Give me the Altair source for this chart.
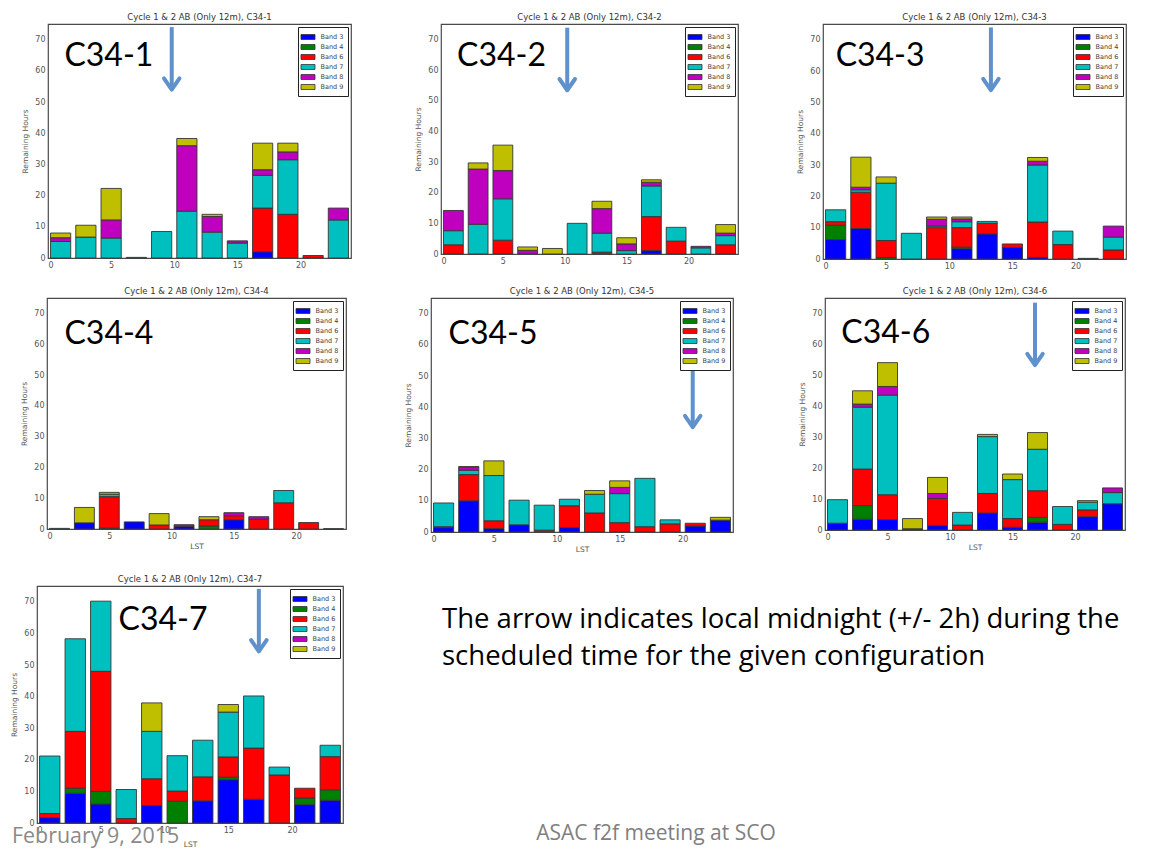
import altair as alt
import pandas as pd

BANDS = ["Band 3", "Band 4", "Band 6", "Band 7", "Band 8", "Band 9"]
BAND_COLORS = ["#0000ff", "#008000", "#ff0000", "#00bfbf", "#bf00bf", "#bfbf00"]
LST_BINS = [0, 2, 4, 6, 8, 10, 12, 14, 16, 18, 20, 22]

C34_1 = {
    "Band 3": [0, 0, 0, 0, 0, 0, 0, 0, 2, 0, 0, 0],
    "Band 4": [0, 0, 0, 0, 0, 0, 0, 0, 0, 0, 0, 0],
    "Band 6": [0, 0, 0, 0, 0, 0, 0, 0, 14, 14, 0.8, 0],
    "Band 7": [5.3, 6.7, 6.4, 0.2, 8.5, 15, 8.3, 4.8, 10.5, 17.5, 0, 12.2],
    "Band 8": [1.2, 0, 5.8, 0, 0, 21, 5, 0.7, 1.8, 2.5, 0, 3.8],
    "Band 9": [1.5, 3.8, 10.1, 0, 0, 2.3, 0.7, 0, 8.5, 2.8, 0, 0],
}
C34_2 = {
    "Band 3": [0, 0, 0, 0, 0, 0, 0, 0, 1.1, 0, 0, 0],
    "Band 4": [0, 0, 0, 0, 0, 0, 0, 0, 0, 0, 0, 0],
    "Band 6": [3, 0, 4.5, 0, 0, 0, 0.6, 0, 11.1, 4.2, 0, 3],
    "Band 7": [4.6, 9.7, 13.5, 0, 0, 10, 6.2, 1.1, 10, 4.5, 2, 3],
    "Band 8": [6.6, 18, 9.2, 1.2, 0, 0, 8, 2.2, 1.2, 0, 0.5, 0.8],
    "Band 9": [0, 2, 8.3, 1.1, 1.8, 0, 2.4, 2, 0.8, 0, 0, 2.8],
}
C34_3 = {
    "Band 3": [6.2, 9.7, 0, 0, 0, 3.3, 8, 3.7, 0.5, 0, 0, 0],
    "Band 4": [4.6, 0, 0.5, 0, 0, 0.5, 0, 0, 0, 0, 0, 0],
    "Band 6": [1.1, 11.6, 5.4, 0, 10, 6.2, 3.4, 1.1, 11.3, 4.6, 0, 2.9],
    "Band 7": [3.8, 0.8, 18.3, 8.2, 0.5, 1.9, 0.6, 0, 18.2, 4.3, 0.2, 4.1],
    "Band 8": [0, 0.8, 0, 0, 2.2, 0.9, 0, 0, 1.2, 0, 0, 3.5],
    "Band 9": [0, 9.6, 2, 0, 0.7, 0.6, 0, 0, 1.2, 0, 0, 0],
}
C34_4 = {
    "Band 3": [0, 2, 0, 2.3, 0, 0.9, 0, 3, 0, 0, 0, 0],
    "Band 4": [0, 0, 0.3, 0, 0, 0, 1, 0, 0, 0, 0, 0],
    "Band 6": [0, 0, 10.2, 0, 1.3, 0, 2, 1.3, 3.2, 8.5, 2.1, 0],
    "Band 7": [0.2, 0, 0.8, 0, 0, 0, 0, 0, 0, 4, 0, 0.1],
    "Band 8": [0, 0, 0, 0, 0, 0.5, 0, 1, 0.8, 0, 0, 0],
    "Band 9": [0, 5, 0.6, 0, 3.7, 0, 1, 0, 0, 0, 0, 0],
}
C34_5 = {
    "Band 3": [1.4, 10, 1.1, 2.3, 0, 1.4, 0, 0, 0, 0, 1.9, 3.8],
    "Band 4": [0.3, 0, 0, 0, 0, 0, 0, 0, 0, 0, 0, 0],
    "Band 6": [0, 8.4, 2.5, 0, 0.6, 7, 6.1, 3, 1.7, 2.6, 0.9, 0],
    "Band 7": [7.6, 1.4, 14.5, 7.9, 8, 2.1, 6, 9.3, 15.5, 1.3, 0, 0],
    "Band 8": [0, 0.9, 0, 0, 0, 0, 0, 2, 0, 0, 0, 0],
    "Band 9": [0, 0.3, 4.7, 0, 0, 0, 1.2, 2.1, 0, 0, 0, 0.9],
}
C34_6 = {
    "Band 3": [2.2, 3.5, 3.4, 0, 1.4, 0, 5.5, 0.9, 2.5, 0, 4.3, 8.5],
    "Band 4": [0, 4.4, 0, 0.4, 0, 0, 0, 0, 1.6, 0, 0, 0],
    "Band 6": [0, 11.8, 8, 0, 8.8, 1.6, 6.3, 2.8, 8.6, 1.8, 2.2, 0],
    "Band 7": [7.6, 20, 32.2, 0, 0, 4.1, 18.4, 12.6, 13.4, 5.8, 2.5, 3.6],
    "Band 8": [0, 1, 2.8, 0, 1.6, 0, 0, 0, 0, 0, 0, 1.5],
    "Band 9": [0, 4.3, 7.7, 3.3, 5.2, 0, 0.7, 1.8, 5.4, 0, 0.5, 0],
}
C34_7 = {
    "Band 3": [1.7, 9.4, 6, 0, 5.5, 0, 7, 13.7, 7.5, 0, 5.8, 7.2],
    "Band 4": [0, 1.6, 4, 0, 0, 6.9, 0, 0.8, 0, 0, 2.1, 3.3],
    "Band 6": [1.3, 18, 38, 1.4, 8.5, 3.2, 7.6, 6.4, 16.2, 15.2, 3.1, 10.5],
    "Band 7": [18.2, 29.3, 22.2, 9.2, 15, 11.2, 11.6, 14.2, 16.5, 2.5, 0, 3.6],
    "Band 8": [0, 0, 0, 0, 0, 0, 0, 0, 0, 0, 0, 0],
    "Band 9": [0, 0, 0, 0, 9, 0, 0, 2.4, 0, 0, 0, 0],
}

CONFIGS = ["C34-1", "C34-2", "C34-3", "C34-4", "C34-5", "C34-6", "C34-7"]
PANEL_DATA = [C34_1, C34_2, C34_3, C34_4, C34_5, C34_6, C34_7]

# local-midnight arrows (LST position, top and tip in hours)
ARROW_LST = [9.8, 10.2, 13.3, None, 20.8, 16.8, 17.4]
ARROW_TOP = [74, 73.8, 73.9, None, 53.8, 73.5, 74.1]
ARROW_TIP = [54, 53.4, 53.9, None, 33.6, 53.3, 54.3]

# big configuration labels (left edge LST, vertical centre in hours)
LABEL_LST = [1.3, 1.3, 1.0, 1.4, 1.4, 1.3, 6.4]
LABEL_HOURS = [64.9, 64.6, 64.7, 63.3, 63.5, 63.7, 64.1]

NOTE_LINES = ["The arrow indicates local midnight (+/- 2h) during the",
              "scheduled time for the given configuration"]
FOOTER_DATE = "February 9, 2015"
FOOTER_MEETING = "ASAC f2f meeting at SCO"

ARROW_COLOR = "#5f91cc"
SIZES = [(303, 234), (297, 230), (303, 235), (299, 231), (302, 234), (300, 232), (306, 237)]


def stacked_table(data):
    rows = []
    for i, b in enumerate(LST_BINS):
        base = 0.0
        for k, band in enumerate(BANDS):
            v = data[band][i]
            if v > 0:
                rows.append({"band": band, "order": k, "lst0": b + 0.2, "lst1": b + 1.8,
                             "h0": base, "h1": base + v})
            base += v
    return pd.DataFrame(rows)


XS = alt.Scale(domain=[0, 24], nice=False, zero=False)
YS = alt.Scale(domain=[0, 75], nice=False, zero=False)
ONE = pd.DataFrame({"a": [0]})


def panel(idx):
    name = CONFIGS[idx]
    w, h = SIZES[idx]
    xtitle = "LST" if idx >= 3 else None
    xaxis = alt.Axis(values=[0, 5, 10, 15, 20], title=xtitle,
                     titlePadding=6 if idx == 6 else 2)
    yaxis = alt.Axis(values=[0, 10, 20, 30, 40, 50, 60, 70], title="Remaining Hours",
                     titlePadding=5)

    def X(f):
        return alt.X(f, type="quantitative", scale=XS, axis=xaxis)

    def Y(f):
        return alt.Y(f, type="quantitative", scale=YS, axis=yaxis)

    df = stacked_table(PANEL_DATA[idx])
    bars = alt.Chart(df).mark_rect(stroke="#353535", strokeWidth=0.9).encode(
        x=X("lst0"), x2="lst1", y=Y("h1"), y2="h0",
        color=alt.Color("band:N", scale=alt.Scale(domain=BANDS, range=BAND_COLORS),
                        legend=alt.Legend(title=None, orient="top-right")),
        order=alt.Order("order:Q"),
    )
    layers = [bars]

    lab = pd.DataFrame({"lst0": [LABEL_LST[idx]], "h1": [LABEL_HOURS[idx]], "t": [name]})
    layers.append(alt.Chart(lab).mark_text(font="Lato", fontSize=32, align="left",
                                           baseline="middle", color="black").encode(
        x=X("lst0"), y=Y("h1"), text="t:N"))

    if ARROW_LST[idx] is not None:
        ar = pd.DataFrame({"lst0": [ARROW_LST[idx]], "h1": [ARROW_TOP[idx]],
                           "h0": [ARROW_TIP[idx] + 0.6]})
        layers.append(alt.Chart(ar).mark_rule(color=ARROW_COLOR, strokeWidth=4).encode(
            x=X("lst0"), y=Y("h1"), y2="h0"))
        tip = pd.DataFrame({"lst0": [ARROW_LST[idx]], "h1": [ARROW_TIP[idx]]})
        layers.append(alt.Chart(tip).mark_point(
            shape="M-1,-1.45L0,0L1,-1.45", size=240, filled=False, stroke=ARROW_COLOR,
            strokeWidth=4, strokeCap="round", strokeJoin="round", opacity=1).encode(
            x=X("lst0"), y=Y("h1")))

    if idx == 6:
        note = pd.DataFrame({"t": NOTE_LINES, "dy": [42, 79]})
        layers.append(alt.Chart(note).mark_text(font="Open Sans", fontSize=27.5, align="left",
                                                baseline="alphabetic", color="black").encode(
            x=alt.value(405), y=alt.Y("dy:Q", scale=None), text="t:N"))
        layers.append(alt.Chart(ONE).mark_text(text=FOOTER_DATE, font="Open Sans", fontSize=21.4,
                                               align="left", baseline="alphabetic",
                                               color="#8a8a8a").encode(
            x=alt.value(-25), y=alt.value(257)))
        layers.append(alt.Chart(ONE).mark_text(text=FOOTER_MEETING, font="Open Sans", fontSize=21,
                                               align="center", baseline="alphabetic",
                                               color="#808080").encode(
            x=alt.value(619), y=alt.value(254)))

    return alt.layer(*layers).properties(
        width=w, height=h, title=f"Cycle 1 & 2 AB (Only 12m), {name}")


def margin_stub():
    # 1x1 empty view used only to set each row's left margin
    return alt.Chart(ONE).mark_rule(strokeOpacity=0, strokeWidth=0).encode(
        x=alt.value(0), x2=alt.value(1), y=alt.value(0)
    ).properties(width=1, height=1, view=alt.ViewBackground(strokeOpacity=0))


p = [panel(i) for i in range(7)]
ind = dict(color="independent")
inner1 = alt.hconcat(p[0], alt.hconcat(p[1], p[2], spacing=57).resolve_legend(**ind),
                     spacing=62).resolve_legend(**ind)
inner2 = alt.hconcat(alt.hconcat(p[3], p[4], spacing=57).resolve_legend(**ind), p[5],
                     spacing=64).resolve_legend(**ind)
row1 = alt.hconcat(margin_stub(), inner1, spacing=11).resolve_legend(**ind)
row2 = alt.hconcat(margin_stub(), inner2, spacing=10).resolve_legend(**ind)
row3 = alt.hconcat(margin_stub(), p[6], spacing=0).resolve_legend(**ind)
top = alt.vconcat(row1, row2, spacing=14).resolve_legend(**ind)
chart = alt.vconcat(top, row3, spacing=19).resolve_legend(**ind).properties(
    padding={"left": 1, "top": 3, "right": 0, "bottom": 0}
).configure_view(stroke="#4a4a4a", strokeWidth=1.2).configure_axis(
    grid=False, domain=False, ticks=False, labelFont="DejaVu Sans", labelFontSize=8,
    labelColor="#555555", labelPadding=3, titleFont="DejaVu Sans", titleFontSize=7.5,
    titleFontWeight="normal", titleColor="#555555"
).configure_title(
    font="DejaVu Sans", fontSize=8.5, fontWeight="normal", color="#333333", offset=3
).configure_legend(
    offset=3, padding=4.5, fillColor="white", strokeColor="#222222",
    symbolType="M-1.4,-0.5H1.4V0.5H-1.4Z", symbolSize=100, symbolStrokeColor="#333333",
    symbolStrokeWidth=0.8, symbolOpacity=1, labelFont="DejaVu Sans", labelFontSize=6.5,
    labelColor="#444444", labelOffset=7, rowPadding=0
)

chart.save("out.html", embed_options={"renderer": "svg", "actions": False})
